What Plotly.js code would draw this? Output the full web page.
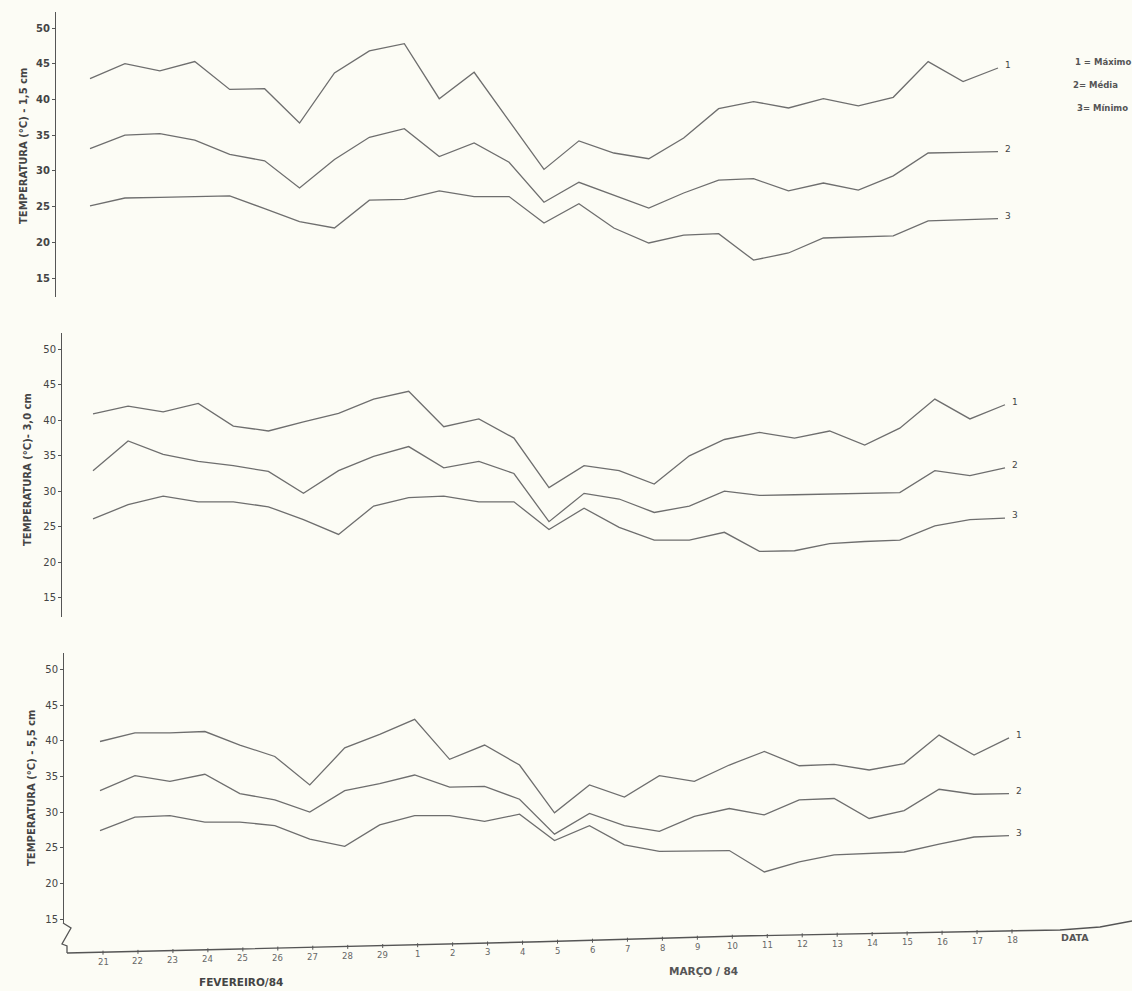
<!DOCTYPE html>
<html>
<head>
<meta charset="utf-8">
<script src="https://cdn.plot.ly/plotly-3.0.1.min.js"></script>
<style>
  html, body { margin: 0; padding: 0; background: #fcfcf5; }
  #chart { width: 1132px; height: 991px; }
</style>
</head>
<body>
<div id="chart"></div>
<script>
// ---- Data ----
const days = ['21','22','23','24','25','26','27','28','29','1','2','3','4','5','6','7','8','9','10','11','12','13','14','15','16','17','18'];
const monthLabels = ['FEVEREIRO/84', 'MARÇO / 84'];
const yTicks = [15, 20, 25, 30, 35, 40, 45, 50];
const seriesNames = ['1', '2', '3'];
const legendLines = ['1 = Máximo', '2= Média', '3= Mínimo'];

// depth 1,5 cm
const max15 = [42.9,45.0,44.0,45.3,41.4,41.5,36.7,43.7,46.8,47.8,40.1,43.8,37.0,30.2,34.2,32.5,31.7,34.6,38.7,39.7,38.8,40.1,39.1,40.3,45.3,42.5,44.4];
const med15 = [33.1,35.0,35.2,34.3,32.3,31.4,27.6,31.6,34.7,35.9,32.0,33.9,31.2,25.6,28.4,26.6,24.8,26.9,28.7,28.9,27.2,28.3,27.3,29.3,32.5,32.6,32.7];
const min15 = [25.1,26.2,26.3,26.4,26.5,24.7,22.9,22.0,25.9,26.0,27.2,26.4,26.4,22.7,25.4,22.0,19.9,21.0,21.2,17.5,18.5,20.6,20.7,20.9,23.0,23.1,23.3];
// depth 3,0 cm
const max30 = [40.9,42.0,41.2,42.4,39.2,38.5,39.8,41.0,43.0,44.1,39.1,40.2,37.5,30.5,33.6,32.9,31.0,35.0,37.3,38.3,37.5,38.5,36.5,38.9,43.0,40.2,42.2];
const med30 = [32.9,37.1,35.2,34.2,33.6,32.8,29.7,32.9,34.9,36.3,33.3,34.2,32.5,25.7,29.7,28.9,27.0,27.9,30.0,29.4,29.5,29.6,29.7,29.8,32.9,32.2,33.3];
const min30 = [26.1,28.1,29.3,28.5,28.5,27.8,26.0,23.9,27.9,29.1,29.3,28.5,28.5,24.6,27.6,24.9,23.1,23.1,24.2,21.5,21.6,22.6,22.9,23.1,25.1,26.0,26.2];
// depth 5,5 cm
const max55 = [39.9,41.1,41.1,41.3,39.4,37.8,33.8,39.0,40.9,43.0,37.4,39.4,36.6,29.9,33.8,32.1,35.1,34.3,36.6,38.5,36.5,36.7,35.9,36.8,40.8,38.0,40.4];
const med55 = [33.0,35.1,34.3,35.3,32.6,31.7,30.0,33.0,34.0,35.2,33.5,33.6,31.8,26.9,29.8,28.1,27.3,29.4,30.5,29.6,31.7,31.9,29.1,30.2,33.2,32.5,32.6];
const min55 = [27.4,29.3,29.5,28.6,28.6,28.1,26.2,25.2,28.2,29.5,29.5,28.7,29.7,26.0,28.1,25.4,24.5,24.6,24.6,21.6,23.0,24.0,24.2,24.4,25.5,26.5,26.7];

// ---- Layout geometry ----
const W = 1132, H = 991;
const fx = px => px / W;
const fy = py => 1 - py / H;

const LINE = '#6e6e6e';
const AXIS = '#555555';
const TEXT = '#444444';
const FONT = 'DejaVu Sans, Liberation Sans, sans-serif';

const panels = [
  {id: '',  axisX: 55, yTop: 12,  yBot: 297, py50: 28,    py15: 278,   p0: 90,  pN: 998,
   data: [max15, med15, min15], title: 'TEMPERATURA (°C) - 1,5 cm', tx: 24, ty: 146, bold: true},
  {id: '2', axisX: 61, yTop: 333, yBot: 617, py50: 349.5, py15: 597.5, p0: 93,  pN: 1005,
   data: [max30, med30, min30], title: 'TEMPERATURA (°C)- 3,0 cm', tx: 28, ty: 470, bold: false},
  {id: '3', axisX: 63, yTop: 653, yBot: 923, py50: 669.5, py15: 919,   p0: 100, pN: 1009,
   data: [max55, med55, min55], title: 'TEMPERATURA (°C) - 5,5 cm', tx: 31, ty: 788, bold: false}
];

const traces = [];
const layout = {
  width: W, height: H,
  margin: {l: 0, r: 0, t: 0, b: 0},
  paper_bgcolor: '#fcfcf5',
  plot_bgcolor: 'rgba(0,0,0,0)',
  showlegend: false,
  shapes: [],
  annotations: []
};

panels.forEach(p => {
  const n = days.length - 1;
  const sx = (p.pN - p.p0) / n;
  const sy = (p.py15 - p.py50) / 35;
  const xa = 'xaxis' + p.id, ya = 'yaxis' + p.id;
  layout[xa] = {
    domain: [fx(p.axisX), 1],
    range: [-(p.p0 - p.axisX) / sx, n + (W - p.pN) / sx],
    type: 'category', visible: false, anchor: 'y' + p.id, fixedrange: true
  };
  layout[ya] = {
    domain: [fy(p.yBot), fy(p.yTop)],
    range: [15 - (p.yBot - p.py15) / sy, 50 + (p.py50 - p.yTop) / sy],
    anchor: 'free', position: fx(p.axisX),
    showline: true, linecolor: AXIS, linewidth: 1.4,
    ticks: 'outside', ticklen: 3, tickwidth: 1, tickcolor: AXIS,
    tickvals: yTicks, showgrid: false, zeroline: false, fixedrange: true,
    tickfont: {family: FONT, size: 10, color: TEXT, weight: p.bold ? 'bold' : 'normal'}
  };
  p.data.forEach((vals, k) => {
    traces.push({
      type: 'scatter', mode: 'lines', x: days, y: vals,
      xaxis: 'x' + p.id, yaxis: 'y' + p.id,
      line: {color: LINE, width: 1.3}, hoverinfo: 'skip'
    });
    // label at the end of each line (index position on the category axis)
    layout.annotations.push({
      x: n, y: vals[n], xref: 'x' + p.id, yref: 'y' + p.id,
      text: seriesNames[k], showarrow: false, xanchor: 'left', yanchor: 'middle',
      xshift: 5, yshift: 3,
      font: {family: FONT, size: 9, color: TEXT}
    });
  });
  layout.annotations.push({
    x: fx(p.tx), y: fy(p.ty), xref: 'paper', yref: 'paper',
    xanchor: 'center', yanchor: 'middle',
    text: p.title, textangle: -90, showarrow: false,
    font: {family: FONT, size: 10, color: TEXT, weight: 'bold'}
  });
});

// Slanted bottom date axis (as drawn in the original)
const basePts = [[67,953],[240,949],[540,941.7],[740,936],[1060,930],[1100,927],[1132,921]];
function baseY(px) {
  for (let i = 1; i < basePts.length; i++) {
    const [x0, y0] = basePts[i-1], [x1, y1] = basePts[i];
    if (px <= x1) return y0 + (y1 - y0) * (px - x0) / (x1 - x0);
  }
  return basePts[basePts.length-1][1];
}
layout.shapes.push({
  type: 'path', xref: 'paper', yref: 'paper',
  path: basePts.map((pt, i) => (i ? 'L' : 'M') + fx(pt[0]) + ',' + fy(pt[1])).join(' '),
  line: {color: AXIS, width: 1.4}
});
// axis break
const brk = [[63,923],[71,928],[62,944],[67,946],[67,953]];
layout.shapes.push({
  type: 'path', xref: 'paper', yref: 'paper',
  path: brk.map((pt, i) => (i ? 'L' : 'M') + fx(pt[0]) + ',' + fy(pt[1])).join(' '),
  line: {color: AXIS, width: 1.3}
});
// date ticks & labels along the slanted axis
const P3 = panels[2];
const s3 = (P3.pN - P3.p0) / (days.length - 1);
days.forEach((d, i) => {
  const px = P3.p0 + i * s3 + 3;
  const ly = baseY(px);
  layout.shapes.push({
    type: 'line', xref: 'paper', yref: 'paper',
    x0: fx(px), x1: fx(px), y0: fy(ly - 1.5), y1: fy(ly + 2.5),
    line: {color: AXIS, width: 1}
  });
  layout.annotations.push({
    x: fx(px), y: fy(ly + 9.5), xref: 'paper', yref: 'paper',
    text: d, showarrow: false, xanchor: 'center', yanchor: 'middle',
    font: {family: FONT, size: 8.5, color: '#666'}
  });
});
// month / axis labels
layout.annotations.push(
  {x: fx(241), y: fy(982), xref: 'paper', yref: 'paper', text: monthLabels[0], showarrow: false,
   xanchor: 'center', yanchor: 'middle',
   font: {family: FONT, size: 10.5, color: TEXT, weight: 'bold'}},
  {x: fx(703), y: fy(971), xref: 'paper', yref: 'paper', text: monthLabels[1], showarrow: false,
   xanchor: 'center', yanchor: 'middle',
   font: {family: FONT, size: 10.5, color: '#555', weight: 'bold'}},
  {x: fx(1075), y: fy(937), xref: 'paper', yref: 'paper', text: 'DATA', showarrow: false,
   xanchor: 'center', yanchor: 'middle',
   font: {family: FONT, size: 9.5, color: '#555', weight: 'bold'}}
);
// legend text
const legPos = [[1073, 62], [1071, 85], [1075, 108]];
legendLines.forEach((t, i) => {
  layout.annotations.push({
    x: fx(legPos[i][0]), y: fy(legPos[i][1]), xref: 'paper', yref: 'paper',
    text: t, showarrow: false, xanchor: 'left', yanchor: 'middle',
    font: {family: FONT, size: 8.5, color: '#555', weight: 'bold'}
  });
});

Plotly.newPlot('chart', traces, layout, {staticPlot: true, displayModeBar: false});
</script>
</body>
</html>
